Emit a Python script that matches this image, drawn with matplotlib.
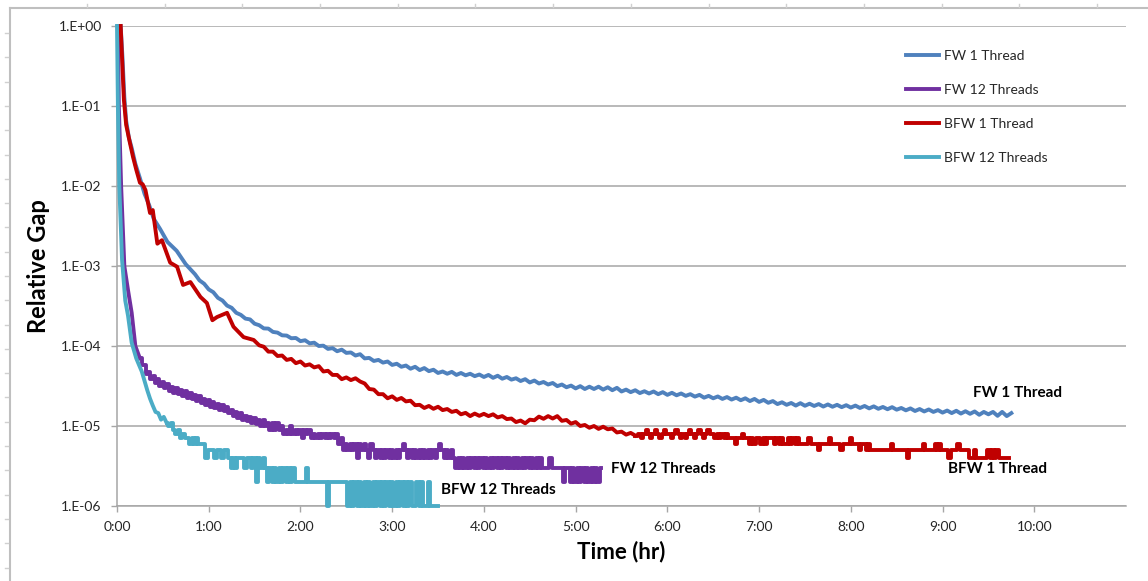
import numpy as np
import matplotlib
matplotlib.use("Agg")
import matplotlib.pyplot as plt
from matplotlib.lines import Line2D
from matplotlib.ticker import NullLocator

plt.rcParams['font.family'] = ['Lato', 'DejaVu Sans']

# ---------------- data (time in hours, relative gap) ----------------
# Each series: an irregular "head" (explicit times) + regularly sampled parts
# (sample k of a sampled part is at start + k * step).

# FW 1 Thread
fw1_head_t = [0.04, 0.06, 0.08, 0.10, 0.13, 0.16, 0.20, 0.25, 0.30, 0.35, 0.40, 0.47, 0.55, 0.65, 0.75]
fw1_head_v = [1.0, 0.4, 0.13, 6.5e-2, 4.0e-2, 3.0e-2, 1.9e-2, 1.25e-2, 8.0e-3, 5.8e-3, 3.9e-3, 2.9e-3, 2.0e-3, 1.55e-3, 1.05e-3]
fw1_tail_start, fw1_tail_step = 0.85, 0.05
fw1_tail_v = [7.9e-4, 6.6e-4, 6.0e-4, 5.1e-4, 4.7e-4, 4.0e-4, 3.7e-4, 3.2e-4, 3.0e-4, 2.6e-4,
              2.45e-4, 2.2e-4, 2.15e-4, 1.9e-4, 1.82e-4, 1.66e-4, 1.65e-4, 1.5e-4, 1.47e-4, 1.36e-4,
              1.35e-4, 1.25e-4, 1.26e-4, 1.15e-4, 1.18e-4, 1.08e-4, 1.1e-4, 1.0e-4, 1.01e-4, 9.2e-5,
              9.4e-5, 8.6e-5, 9.0e-5, 8.2e-5, 8.3e-5, 7.6e-5, 7.9e-5, 7.0e-5, 7.1e-5, 6.5e-5,
              6.7e-5, 6.2e-5, 6.4e-5, 5.8e-5, 6.0e-5, 5.5e-5, 5.7e-5, 5.2e-5, 5.5e-5, 5.0e-5,
              5.3e-5, 4.85e-5, 5.05e-5, 4.6e-5, 4.8e-5, 4.5e-5, 4.75e-5, 4.35e-5, 4.6e-5, 4.3e-5,
              4.5e-5, 4.2e-5, 4.4e-5, 4.1e-5, 4.35e-5, 4.0e-5, 4.25e-5, 3.9e-5, 4.1e-5, 3.8e-5,
              3.95e-5, 3.65e-5, 3.85e-5, 3.5e-5, 3.7e-5, 3.4e-5, 3.55e-5, 3.3e-5, 3.45e-5, 3.15e-5,
              3.3e-5, 3.05e-5, 3.2e-5, 2.95e-5, 3.15e-5, 2.9e-5, 3.1e-5, 2.9e-5, 3.1e-5, 2.85e-5,
              3.05e-5, 2.8e-5, 3.0e-5, 2.7e-5, 2.85e-5, 2.65e-5, 2.8e-5, 2.58e-5, 2.72e-5, 2.55e-5,
              2.7e-5, 2.5e-5, 2.65e-5, 2.45e-5, 2.6e-5, 2.42e-5, 2.55e-5, 2.38e-5, 2.5e-5, 2.33e-5,
              2.45e-5, 2.26e-5, 2.38e-5, 2.22e-5, 2.34e-5, 2.18e-5, 2.3e-5, 2.14e-5, 2.26e-5, 2.1e-5,
              2.22e-5, 2.05e-5, 2.18e-5, 2.0e-5, 2.12e-5, 1.95e-5, 2.05e-5, 1.88e-5, 1.98e-5, 1.84e-5,
              1.94e-5, 1.8e-5, 1.93e-5, 1.79e-5, 1.9e-5, 1.78e-5, 1.88e-5, 1.75e-5, 1.86e-5, 1.74e-5,
              1.84e-5, 1.72e-5, 1.82e-5, 1.7e-5, 1.8e-5, 1.68e-5, 1.78e-5, 1.66e-5, 1.76e-5, 1.64e-5,
              1.73e-5, 1.62e-5, 1.72e-5, 1.6e-5, 1.68e-5, 1.57e-5, 1.66e-5, 1.54e-5, 1.63e-5, 1.52e-5,
              1.61e-5, 1.5e-5, 1.58e-5, 1.47e-5, 1.56e-5, 1.45e-5, 1.55e-5, 1.43e-5, 1.53e-5, 1.42e-5,
              1.52e-5, 1.38e-5, 1.5e-5, 1.4e-5, 1.5e-5, 1.34e-5, 1.5e-5, 1.33e-5, 1.45e-5]

# FW 12 Threads
fw12_head_t = [0.01, 0.02, 0.045, 0.08, 0.12, 0.16, 0.20, 0.25]
fw12_head_v = [1.0, 0.1, 1.0e-2, 1.0e-3, 5.0e-4, 2.6e-4, 1.0e-4, 7.0e-5]
fw12_tail_start, fw12_tail_step = 0.30, 0.025
fw12_tail_v = [5.8e-5, 4.5e-5, 4.8e-5, 3.9e-5, 4.2e-5, 3.45e-5, 3.9e-5, 3.2e-5, 3.55e-5, 2.95e-5,
               3.35e-5, 2.75e-5, 3.1e-5, 2.6e-5, 2.95e-5, 2.5e-5, 2.85e-5, 2.35e-5, 2.7e-5, 2.25e-5,
               2.6e-5, 2.15e-5, 2.45e-5, 2.05e-5, 2.35e-5, 1.95e-5, 2.2e-5, 1.85e-5, 2.1e-5, 1.75e-5,
               2.0e-5, 1.7e-5, 1.9e-5, 1.6e-5, 1.85e-5, 1.55e-5, 1.75e-5, 1.45e-5, 1.6e-5, 1.35e-5,
               1.5e-5, 1.25e-5, 1.45e-5, 1.2e-5, 1.35e-5, 1.15e-5, 1.3e-5, 1.1e-5, 1.25e-5, 1.05e-5,
               1.2e-5, 1.0e-5, 1.2e-5, 1.0e-5, 1.1e-5, 9e-6, 1.1e-5, 9e-6, 1.1e-5, 9e-6,
               1.0e-5, 8e-6, 9e-6, 8e-6, 1e-5, 8e-6, 9e-6, 8e-6, 9e-6, 7e-6,
               9e-6, 8e-6, 9e-6, 7e-6, 8e-6, 7e-6, 8e-6, 7e-6, 8e-6, 7e-6,
               8e-6, 7e-6, 8e-6, 7e-6, 8e-6, 6e-6, 7e-6, 5e-6, 6e-6, 5e-6,
               6e-6, 5e-6, 6e-6, 4e-6, 6e-6, 5e-6, 6e-6, 5e-6, 4e-6, 6e-6,
               5e-6, 4e-6, 5e-6, 4e-6, 5e-6, 4e-6, 5e-6, 4e-6, 5e-6, 4e-6,
               5e-6, 4e-6, 5e-6, 6e-6, 5e-6, 4e-6, 5e-6, 4e-6, 5e-6, 4e-6,
               5e-6, 4e-6, 5e-6, 4e-6, 5e-6, 4e-6, 5e-6, 4e-6, 5e-6, 6e-6,
               5e-6, 4e-6, 5e-6, 4e-6, 5e-6, 4e-6, 3e-6, 4e-6, 3e-6, 4e-6,
               3e-6, 4e-6, 3e-6, 4e-6, 3e-6, 4e-6, 3e-6, 4e-6, 3e-6, 4e-6,
               3e-6, 4e-6, 3e-6, 4e-6, 3e-6, 4e-6, 3e-6, 4e-6, 3e-6, 4e-6,
               3e-6, 4e-6, 3e-6, 4e-6, 3e-6, 4e-6, 3e-6, 4e-6, 3e-6, 4e-6,
               3e-6, 4e-6, 3e-6, 4e-6, 3e-6, 3e-6, 3e-6, 4e-6, 3e-6, 3e-6,
               3e-6, 3e-6, 3e-6, 2e-6, 3e-6, 3e-6, 2e-6, 3e-6, 2e-6, 3e-6,
               2e-6, 3e-6, 2e-6, 3e-6, 2e-6, 3e-6, 2e-6, 3e-6, 2e-6, 3e-6]

# BFW 1 Thread
bfw1_head_t = [0.04, 0.075, 0.10, 0.14, 0.175, 0.21, 0.25, 0.28, 0.31, 0.36, 0.39, 0.44, 0.49, 0.58, 0.655,
               0.72, 0.80, 0.91, 0.98, 1.04, 1.09, 1.20, 1.27, 1.38, 1.49]
bfw1_head_v = [1.0, 0.12, 5.8e-2, 3.5e-2, 2.3e-2, 1.6e-2, 1.1e-2, 1.05e-2, 8.9e-3, 4.6e-3, 5.0e-3, 1.9e-3, 2.1e-3, 1.1e-3, 9.8e-4,
               5.8e-4, 6.3e-4, 4.1e-4, 3.45e-4, 2.1e-4, 2.3e-4, 2.6e-4, 1.74e-4, 1.29e-4, 1.19e-4]
bfw1_mid_start, bfw1_mid_step = 1.55, 0.05
bfw1_mid_v = [1.02e-4, 9.8e-5, 8.5e-5, 8.5e-5, 7.5e-5, 7.6e-5, 6.7e-5, 6.9e-5, 6.1e-5, 6.4e-5,
              5.7e-5, 5.9e-5, 5.4e-5, 5.6e-5, 4.8e-5, 4.9e-5, 4.35e-5, 4.35e-5, 3.85e-5, 4.05e-5,
              3.75e-5, 3.95e-5, 3.6e-5, 3.4e-5, 2.9e-5, 2.85e-5, 2.5e-5, 2.5e-5, 2.22e-5, 2.35e-5,
              2.12e-5, 2.24e-5, 2.03e-5, 2.07e-5, 1.82e-5, 1.84e-5, 1.68e-5, 1.78e-5, 1.64e-5, 1.74e-5,
              1.58e-5, 1.63e-5, 1.5e-5, 1.55e-5, 1.4e-5, 1.46e-5, 1.33e-5, 1.43e-5, 1.34e-5, 1.42e-5,
              1.33e-5, 1.4e-5, 1.28e-5, 1.33e-5, 1.22e-5, 1.24e-5, 1.12e-5, 1.17e-5, 1.08e-5, 1.2e-5,
              1.18e-5, 1.31e-5, 1.23e-5, 1.33e-5, 1.24e-5, 1.33e-5, 1.16e-5, 1.19e-5, 1.07e-5, 1.12e-5,
              1.0e-5, 1.03e-5, 9.5e-6, 1.0e-5, 9.2e-6, 9.8e-6, 9.1e-6, 9.3e-6, 8.3e-6, 8.5e-6,
              7.8e-6, 8.2e-6, 7.6e-6]
bfw1_tail_start, bfw1_tail_step = 5.70, 0.025
bfw1_tail_v = [8e-6, 7e-6, 8e-6, 9e-6, 8e-6, 7e-6, 8e-6, 9e-6, 8e-6, 7e-6,
               8e-6, 9e-6, 8e-6, 8e-6, 7e-6, 8e-6, 9e-6, 8e-6, 7e-6, 8e-6,
               7e-6, 8e-6, 9e-6, 8e-6, 7e-6, 8e-6, 9e-6, 8e-6, 7e-6, 8e-6,
               9e-6, 8e-6, 8e-6, 7e-6, 8e-6, 7e-6, 8e-6, 7e-6, 8e-6, 7e-6,
               7e-6, 7e-6, 6e-6, 7e-6, 7e-6, 8e-6, 7e-6, 7e-6, 6e-6, 7e-6,
               6e-6, 7e-6, 7e-6, 6e-6, 7e-6, 6e-6, 7e-6, 7e-6, 7e-6, 6e-6,
               7e-6, 6e-6, 7e-6, 6e-6, 6e-6, 7e-6, 6e-6, 7e-6, 6e-6, 7e-6,
               6e-6, 6e-6, 6e-6, 6e-6, 7e-6, 6e-6, 6e-6, 6e-6, 5e-6, 6e-6,
               6e-6, 6e-6, 6e-6, 7e-6, 6e-6, 6e-6, 6e-6, 6e-6, 5e-6, 6e-6,
               6e-6, 6e-6, 7e-6, 6e-6, 6e-6, 6e-6, 5e-6, 6e-6, 6e-6, 5e-6,
               6e-6, 5e-6, 5e-6, 5e-6, 5e-6, 5e-6, 5e-6, 5e-6, 5e-6, 5e-6,
               6e-6, 5e-6, 5e-6, 5e-6, 5e-6, 5e-6, 5e-6, 4e-6, 5e-6, 5e-6,
               5e-6, 5e-6, 5e-6, 5e-6, 6e-6, 5e-6, 5e-6, 5e-6, 5e-6, 6e-6,
               5e-6, 6e-6, 5e-6, 5e-6, 5e-6, 4e-6, 5e-6, 5e-6, 5e-6, 6e-6,
               5e-6, 5e-6, 5e-6, 5e-6, 4e-6, 4e-6, 5e-6, 4e-6, 4e-6, 4e-6,
               4e-6, 4e-6, 5e-6, 4e-6, 5e-6, 4e-6, 5e-6, 4e-6, 4e-6, 4e-6,
               4e-6, 4e-6]

# BFW 12 Threads
bfw12_head_t = [0.0, 0.01, 0.025, 0.055, 0.09, 0.12, 0.16, 0.21, 0.27, 0.33, 0.36, 0.39, 0.42, 0.45, 0.48, 0.51, 0.54]
bfw12_head_v = [1.0, 0.1, 1.0e-2, 1.2e-3, 3.7e-4, 2.4e-4, 1.1e-4, 7.0e-5, 4.8e-5, 2.8e-5, 2.2e-5, 1.8e-5, 1.5e-5, 1.45e-5, 1.2e-5, 1.3e-5, 1.1e-5]
bfw12_tail_start, bfw12_tail_step = 0.575, 0.025
bfw12_tail_v = [1.0e-5, 1.1e-5, 9e-6, 8e-6, 9e-6, 7e-6, 8e-6, 7e-6, 7e-6, 6e-6,
                7e-6, 6e-6, 7e-6, 6e-6, 6e-6, 6e-6, 4e-6, 5e-6, 5e-6, 5e-6,
                4e-6, 5e-6, 5e-6, 4e-6, 5e-6, 5e-6, 4e-6, 3e-6, 4e-6, 3e-6,
                4e-6, 4e-6, 4e-6, 3e-6, 4e-6, 4e-6, 3e-6, 4e-6, 2e-6, 4e-6,
                3e-6, 4e-6, 3e-6, 2e-6, 3e-6, 2e-6, 3e-6, 2e-6, 3e-6, 2e-6,
                3e-6, 2e-6, 3e-6, 2e-6, 3e-6, 2e-6, 2e-6, 2e-6, 2e-6, 2e-6,
                3e-6, 2e-6, 2e-6, 2e-6, 2e-6, 2e-6, 2e-6, 2e-6, 2e-6, 1e-6,
                2e-6, 2e-6, 2e-6, 2e-6, 2e-6, 2e-6, 2e-6, 2e-6, 1e-6, 2e-6,
                1e-6, 2e-6, 1e-6, 2e-6, 1e-6, 2e-6, 1e-6, 2e-6, 1e-6, 2e-6,
                1e-6, 2e-6, 1e-6, 2e-6, 1e-6, 2e-6, 1e-6, 2e-6, 1e-6, 2e-6,
                1e-6, 2e-6, 1e-6, 2e-6, 1e-6, 2e-6, 1e-6, 1e-6, 2e-6, 1e-6,
                2e-6, 1e-6, 1e-6, 2e-6, 1e-6, 1e-6, 1e-6, 1e-6]

series_names = ["FW 1 Thread", "FW 12 Threads", "BFW 1 Thread", "BFW 12 Threads"]
series_colors = ["#4F81BD", "#7030A0", "#C00000", "#4BACC6"]
y_ticks = [1e0, 1e-1, 1e-2, 1e-3, 1e-4, 1e-5, 1e-6]
y_tick_labels = ["1.E+00", "1.E-01", "1.E-02", "1.E-03", "1.E-04", "1.E-05", "1.E-06"]
x_ticks = [0, 1, 2, 3, 4, 5, 6, 7, 8, 9, 10]
x_tick_labels = ["0:00", "1:00", "2:00", "3:00", "4:00", "5:00", "6:00", "7:00", "8:00", "9:00", "10:00"]


def sampled(start, step, values):
    return [start + k * step for k in range(len(values))]


# pieces: (times, values, drawstyle); the quantised tails are drawn sample-and-hold
fw1_pieces = [(fw1_head_t + sampled(fw1_tail_start, fw1_tail_step, fw1_tail_v),
               fw1_head_v + fw1_tail_v, 'default')]
fw12_pieces = [(fw12_head_t, fw12_head_v, 'default'),
               (fw12_head_t[-1:] + sampled(fw12_tail_start, fw12_tail_step, fw12_tail_v),
                fw12_head_v[-1:] + fw12_tail_v, 'steps-mid')]
bfw1_main_t = bfw1_head_t + sampled(bfw1_mid_start, bfw1_mid_step, bfw1_mid_v)
bfw1_main_v = bfw1_head_v + bfw1_mid_v
bfw1_pieces = [(bfw1_main_t, bfw1_main_v, 'default'),
               (bfw1_main_t[-1:] + sampled(bfw1_tail_start, bfw1_tail_step, bfw1_tail_v),
                bfw1_main_v[-1:] + bfw1_tail_v, 'steps-mid')]
bfw12_pieces = [(bfw12_head_t, bfw12_head_v, 'default'),
                (bfw12_head_t[-1:] + sampled(bfw12_tail_start, bfw12_tail_step, bfw12_tail_v),
                 bfw12_head_v[-1:] + bfw12_tail_v, 'steps-mid')]

# ---------------- figure ----------------
W, H = 1148, 581
fig = plt.figure(figsize=(W / 100, H / 100), dpi=100)
ax = fig.add_axes([117 / W, 1 - 506 / H, (1126 - 117) / W, (506 - 26) / H])

handles = []
for pieces, name, col in zip([fw1_pieces, fw12_pieces, bfw1_pieces, bfw12_pieces],
                             series_names, series_colors):
    for t, v, ds in pieces:
        ax.plot(t, v, color=col, lw=2.8, drawstyle=ds, clip_on=False, zorder=3)
    handles.append(Line2D([], [], color=col, lw=2.8, label=name))

ax.set_yscale('log')
ax.set_ylim(1e-6, 1)
ax.set_yticks(y_ticks)
ax.set_yticklabels(y_tick_labels)
ax.yaxis.set_minor_locator(NullLocator())
ax.set_xlim(0, 11)
ax.set_xticks(x_ticks)
ax.set_xticklabels(x_tick_labels)

ax.yaxis.grid(True, color='#A6A6A6', lw=1.1)
ax.set_axisbelow(True)
for s in ['top', 'right']:
    ax.spines[s].set_visible(False)
for s in ['left', 'bottom']:
    ax.spines[s].set_color('#A6A6A6')
    ax.spines[s].set_linewidth(1.1)
ax.tick_params(axis='both', direction='out', length=4, width=1, color='#A6A6A6',
               labelcolor='#262626', labelsize=10)
ax.tick_params(axis='y', pad=7)
ax.tick_params(axis='x', pad=7)

ax.set_xlabel("Time (hr)", fontsize=16, fontweight='bold')
ax.set_ylabel("Relative Gap", fontsize=17, fontweight='bold')
ax.xaxis.set_label_coords(0.5, -0.072)
ax.yaxis.set_label_coords(-0.066, 0.5)

# direct labels
ax.text(9.33, 2.6e-5, "FW 1 Thread", fontsize=11, fontweight='bold', va='center', ha='left')
ax.text(9.06, 2.9e-6, "BFW 1 Thread", fontsize=11, fontweight='bold', va='center', ha='left')
ax.text(5.39, 2.9e-6, "FW 12 Threads", fontsize=11, fontweight='bold', va='center', ha='left')
ax.text(3.53, 1.6e-6, "BFW 12 Threads", fontsize=11, fontweight='bold', va='center', ha='left')

leg = ax.legend(handles=handles, loc='upper left', bbox_to_anchor=(906 / W, 1 - 50 / H),
                bbox_transform=fig.transFigure, frameon=False, fontsize=10,
                labelspacing=1.58, handlelength=2.4, handletextpad=0.3,
                borderpad=0, borderaxespad=0)
for txt in leg.get_texts():
    txt.set_color('#262626')

# spreadsheet frame
fc = '#BFBFBF'
fig.add_artist(Line2D([9.5 / W, 9.5 / W], [0, 1 - 8 / H], transform=fig.transFigure, color=fc, lw=1.5))
fig.add_artist(Line2D([9.5 / W, 1], [1 - 8 / H, 1 - 8 / H], transform=fig.transFigure, color=fc, lw=1.5))
for yy in np.arange(33, 581, 24.3):
    fig.add_artist(Line2D([5 / W, 8 / W], [1 - yy / H, 1 - yy / H], transform=fig.transFigure, color='#D0D0D0', lw=1))
for xx in np.arange(87, 1148, 77.7):
    fig.add_artist(Line2D([xx / W, xx / W], [1 - 4 / H, 1 - 7 / H], transform=fig.transFigure, color='#D0D0D0', lw=1))

fig.savefig("out.png", dpi=100, facecolor='white')
